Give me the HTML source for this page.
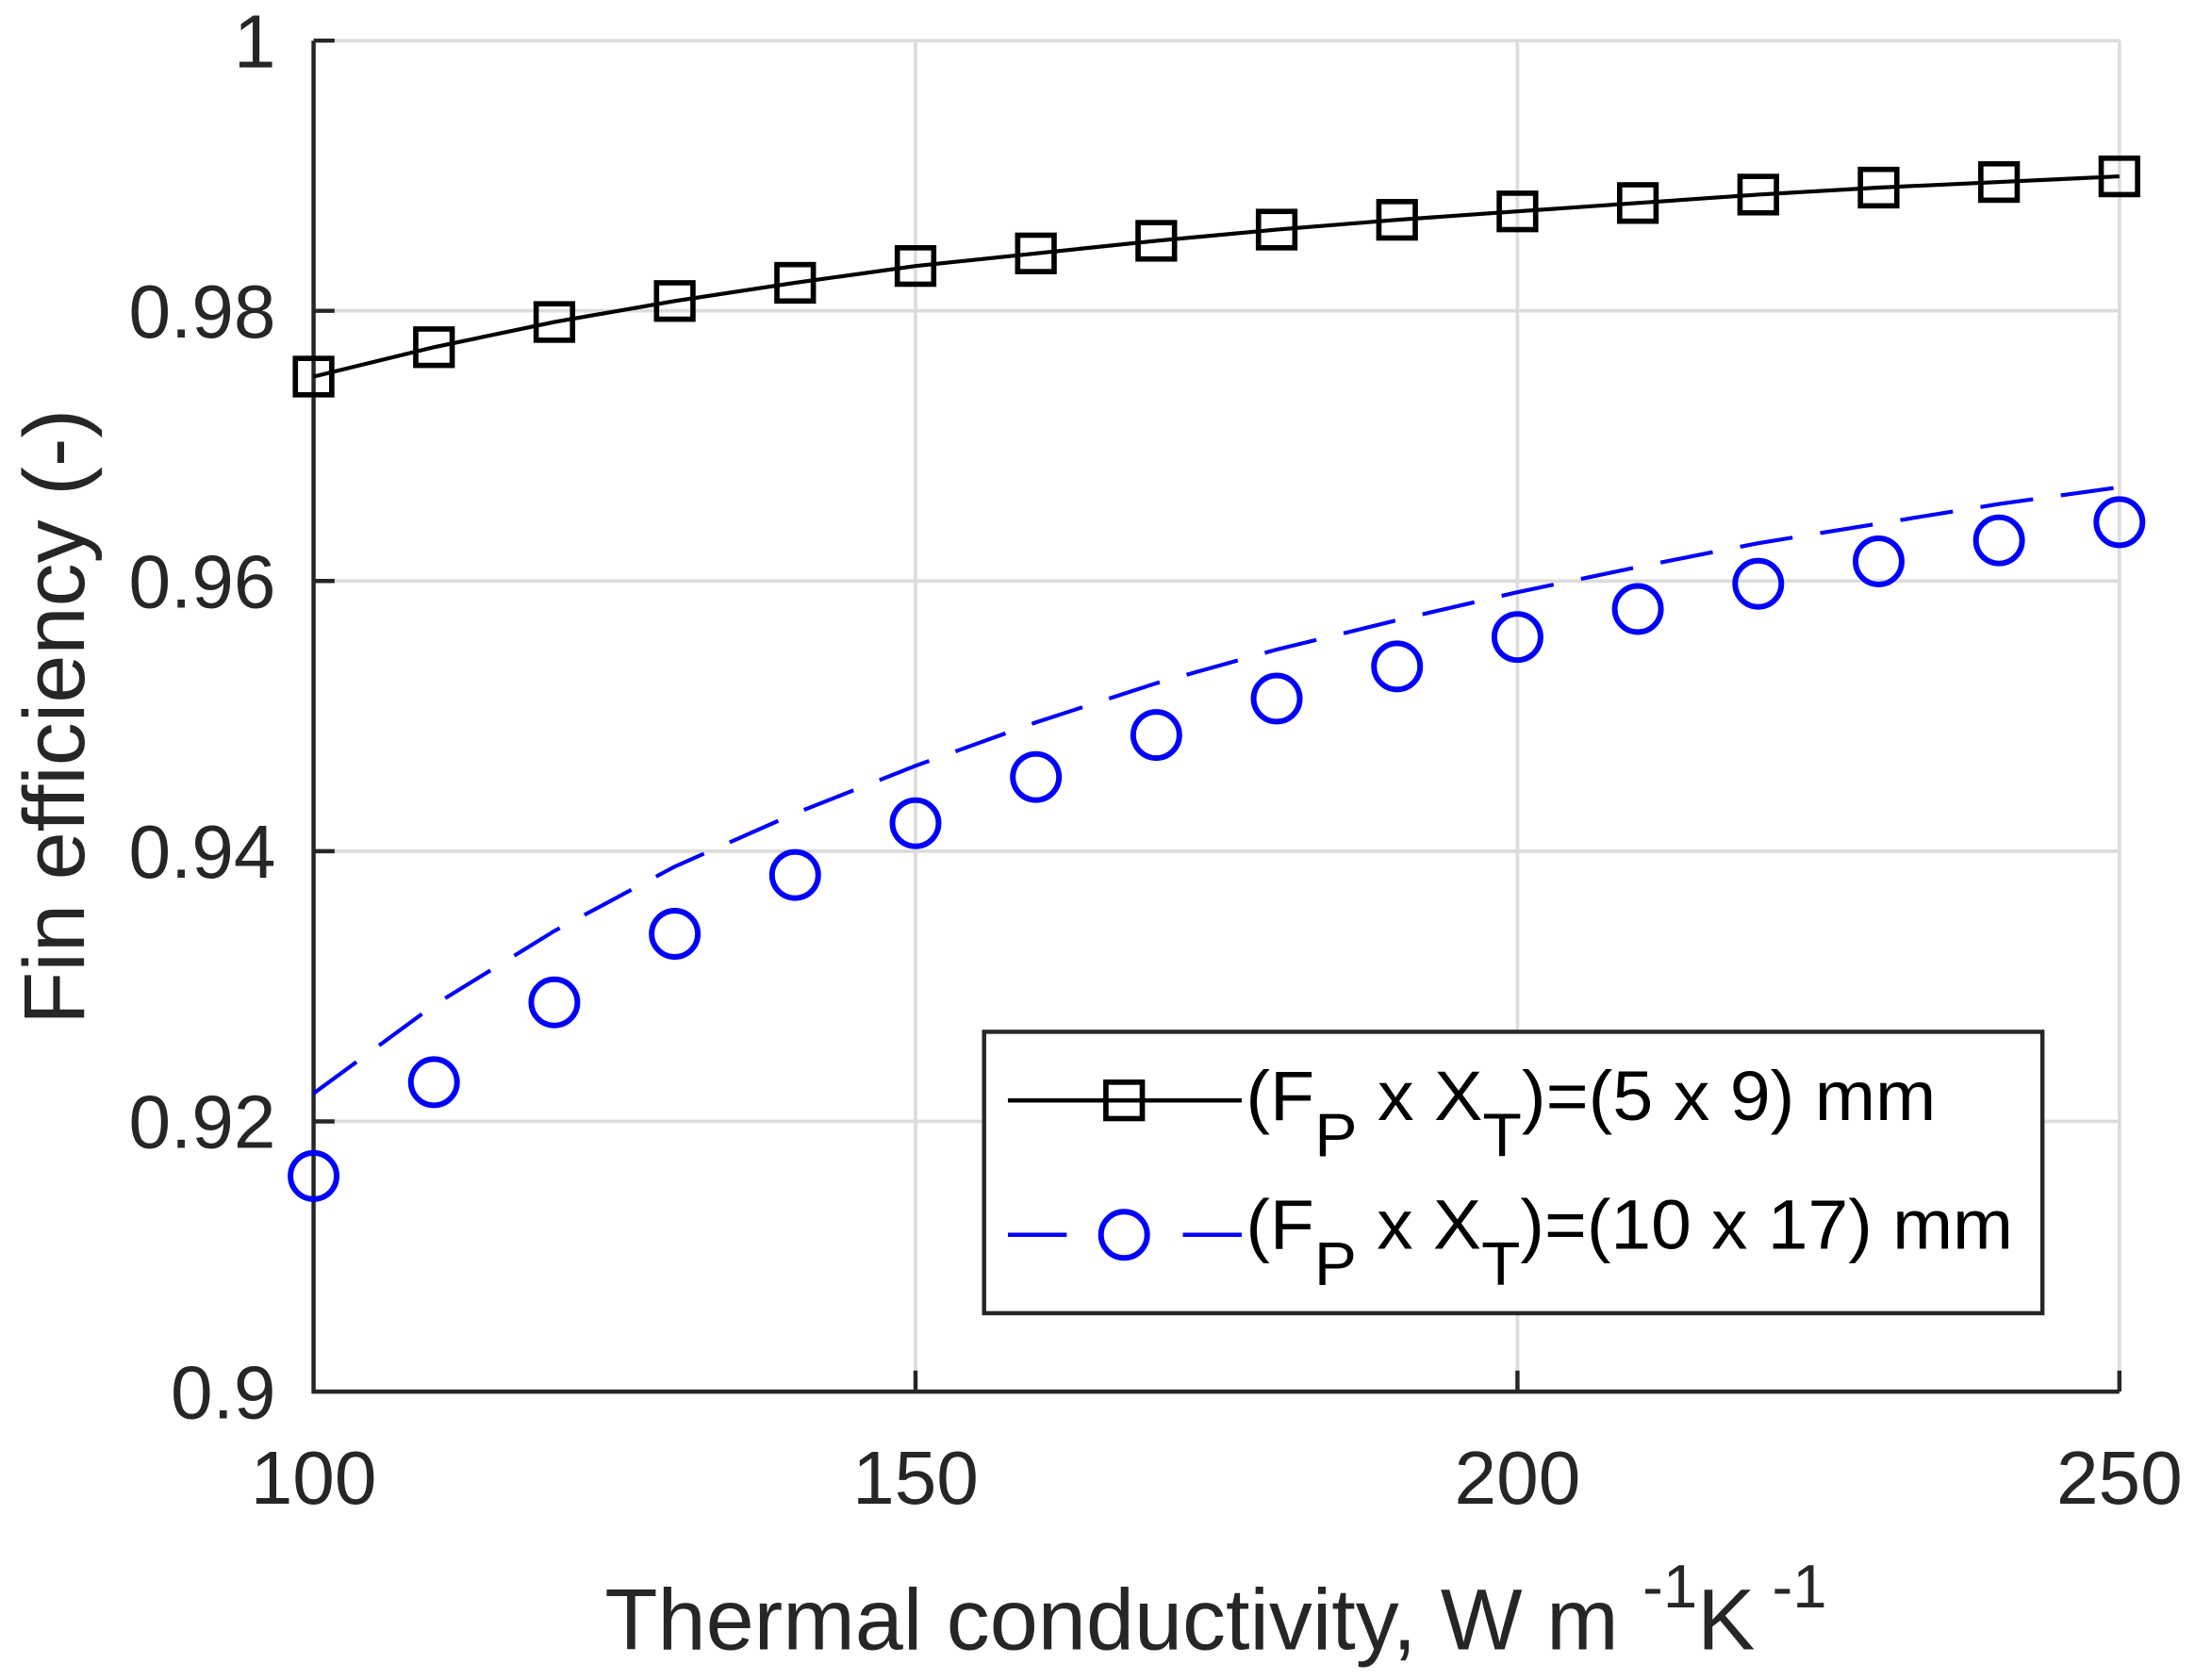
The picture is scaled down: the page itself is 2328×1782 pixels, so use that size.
<!DOCTYPE html>
<html><head><meta charset="utf-8"><style>html,body{margin:0;padding:0;background:#fff}svg{display:block}</style></head>
<body>
<svg width="2328" height="1782" viewBox="0 0 1568 1200" preserveAspectRatio="none" xmlns="http://www.w3.org/2000/svg" font-family="Liberation Sans, Arial, sans-serif">
<rect width="1568" height="1200" fill="#fff"/>
<g stroke="#dcdcdc" stroke-width="2.5" fill="none">
<line x1="224" y1="29" x2="1514" y2="29"/>
<line x1="224" y1="222" x2="1514" y2="222"/>
<line x1="224" y1="415" x2="1514" y2="415"/>
<line x1="224" y1="608" x2="1514" y2="608"/>
<line x1="224" y1="801" x2="1514" y2="801"/>
<line x1="654" y1="29" x2="654" y2="994"/>
<line x1="1084" y1="29" x2="1084" y2="994"/>
<line x1="1514" y1="29" x2="1514" y2="994"/>
</g>
<g stroke="#262626" stroke-width="3" fill="none">
<polyline points="224,29 224,994 1514,994"/>
<line x1="224" y1="29" x2="239" y2="29"/>
<line x1="224" y1="222" x2="239" y2="222"/>
<line x1="224" y1="415" x2="239" y2="415"/>
<line x1="224" y1="608" x2="239" y2="608"/>
<line x1="224" y1="801" x2="239" y2="801"/>
<line x1="654" y1="994" x2="654" y2="979"/>
<line x1="1084" y1="994" x2="1084" y2="979"/>
<line x1="1514" y1="994" x2="1514" y2="979"/>
</g>
<g fill="#262626" font-size="54" text-anchor="end">
<text x="197" y="48">1</text>
<text x="197" y="241">0.98</text>
<text x="197" y="434">0.96</text>
<text x="197" y="627">0.94</text>
<text x="197" y="820">0.92</text>
<text x="197" y="1013">0.9</text>
</g>
<g fill="#262626" font-size="54" text-anchor="middle">
<text x="224" y="1074">100</text>
<text x="654" y="1074">150</text>
<text x="1084" y="1074">200</text>
<text x="1514" y="1074">250</text>
</g>
<text x="432" y="1178" fill="#262626" font-size="62" textLength="873" lengthAdjust="spacingAndGlyphs">Thermal conductivity, W m <tspan font-size="44" dy="-30">-1</tspan><tspan dy="30">K</tspan><tspan font-size="44" dy="-30"> -1</tspan></text>
<text transform="translate(60,512) rotate(-90)" text-anchor="middle" fill="#262626" font-size="62">Fin efficiency (-)</text>
<!-- black series -->
<polyline fill="none" stroke="#000" stroke-width="2.8" points="224,269 310,248 396,230 482,215 568,202 654,190 740,181 826,172 912,164 998,157 1084,151 1170,145 1256,139 1342,134 1428,130 1514,126"/>
<g fill="none" stroke="#000" stroke-width="3.8">
<rect x="211" y="256" width="26" height="26"/><rect x="297" y="235" width="26" height="26"/><rect x="383" y="217" width="26" height="26"/><rect x="469" y="202" width="26" height="26"/><rect x="555" y="189" width="26" height="26"/><rect x="641" y="177" width="26" height="26"/><rect x="727" y="168" width="26" height="26"/><rect x="813" y="159" width="26" height="26"/><rect x="899" y="151" width="26" height="26"/><rect x="985" y="144" width="26" height="26"/><rect x="1071" y="138" width="26" height="26"/><rect x="1157" y="132" width="26" height="26"/><rect x="1243" y="126" width="26" height="26"/><rect x="1329" y="121" width="26" height="26"/><rect x="1415" y="117" width="26" height="26"/><rect x="1501" y="113" width="26" height="26"/>
</g>
<!-- blue series -->
<polyline fill="none" stroke="#0000ff" stroke-width="2.8" stroke-dasharray="38,20" points="224,781 310,718 396,665 482,619 568,581 654,547 740,516 826,488 912,464 998,443 1084,423 1170,405 1256,388 1342,374 1428,360 1514,348"/>
<g fill="none" stroke="#0000ff" stroke-width="4">
<circle cx="224" cy="840" r="16.5"/><circle cx="310" cy="773" r="16.5"/><circle cx="396" cy="716" r="16.5"/><circle cx="482" cy="667" r="16.5"/><circle cx="568" cy="625" r="16.5"/><circle cx="654" cy="588" r="16.5"/><circle cx="740" cy="555" r="16.5"/><circle cx="826" cy="525" r="16.5"/><circle cx="912" cy="499" r="16.5"/><circle cx="998" cy="476" r="16.5"/><circle cx="1084" cy="455" r="16.5"/><circle cx="1170" cy="435" r="16.5"/><circle cx="1256" cy="417" r="16.5"/><circle cx="1342" cy="401" r="16.5"/><circle cx="1428" cy="386" r="16.5"/><circle cx="1514" cy="373" r="16.5"/>
</g>
<!-- legend -->
<rect x="703" y="737" width="756" height="201" fill="#fff" stroke="#262626" stroke-width="3"/>
<line x1="720" y1="786" x2="887" y2="786" stroke="#000" stroke-width="3"/>
<rect x="790" y="773" width="26" height="26" fill="none" stroke="#000" stroke-width="3.8"/>
<line x1="720" y1="882" x2="762" y2="882" stroke="#0000ff" stroke-width="3"/>
<line x1="845" y1="882" x2="887" y2="882" stroke="#0000ff" stroke-width="3"/>
<circle cx="803" cy="882" r="16.5" fill="none" stroke="#0000ff" stroke-width="4"/>
<g fill="#000" font-size="50">
<text x="890" y="800" textLength="493" lengthAdjust="spacingAndGlyphs">(F<tspan font-size="44" dy="26">P</tspan><tspan dy="-26"> x X</tspan><tspan font-size="44" dy="26">T</tspan><tspan dy="-26">)=(5 x 9) mm</tspan></text>
<text x="890" y="892" textLength="548" lengthAdjust="spacingAndGlyphs">(F<tspan font-size="44" dy="26">P</tspan><tspan dy="-26"> x X</tspan><tspan font-size="44" dy="26">T</tspan><tspan dy="-26">)=(10 x 17) mm</tspan></text>
</g>
</svg>
</body></html>
